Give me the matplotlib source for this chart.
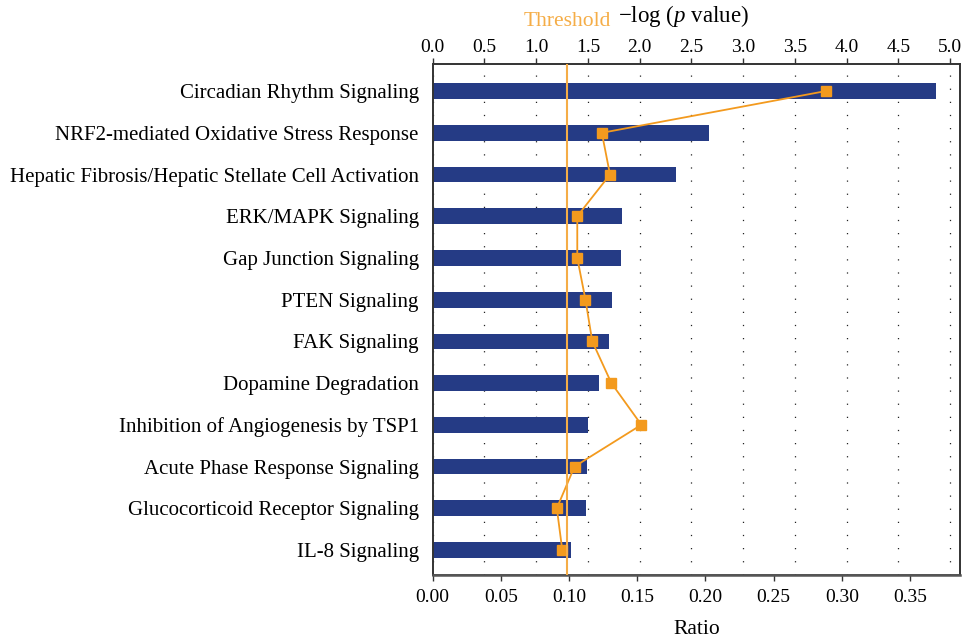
import numpy as np
import matplotlib
matplotlib.use('Agg')
import matplotlib.pyplot as plt
import matplotlib.transforms as mtransforms

plt.rcParams['font.family'] = 'Liberation Serif'
plt.rcParams['mathtext.fontset'] = 'custom'
plt.rcParams['mathtext.rm'] = 'Liberation Serif'
plt.rcParams['mathtext.it'] = 'Liberation Serif:italic'

# canonical pathways, top to bottom
pathways = ['Circadian Rhythm Signaling',
            'NRF2-mediated Oxidative Stress Response',
            'Hepatic Fibrosis/Hepatic Stellate Cell Activation',
            'ERK/MAPK Signaling',
            'Gap Junction Signaling',
            'PTEN Signaling',
            'FAK Signaling',
            'Dopamine Degradation',
            'Inhibition of Angiogenesis by TSP1',
            'Acute Phase Response Signaling',
            'Glucocorticoid Receptor Signaling',
            'IL-8 Signaling']
neglogp = [4.86, 2.67, 2.35, 1.83, 1.82, 1.73, 1.70, 1.61, 1.50, 1.49, 1.48, 1.34]
ratio = [0.288, 0.124, 0.130, 0.106, 0.106, 0.112, 0.117, 0.131, 0.153, 0.104, 0.091, 0.095]
threshold = 1.3
logp_ticks = np.arange(0, 5.01, 0.5)
ratio_ticks = np.arange(0, 0.351, 0.05)

bar_col = '#253B85'
line_col = '#F39A1E'
thr_col = '#F5AD47'
fs_cat = 15
fs_tick = 14
fs_lab = 15.5

fig = plt.figure(figsize=(9.65, 6.42), dpi=100)
ax = fig.add_axes([0.4484, 0.1044, 0.5464, 0.7959])
ax2 = ax.twiny()
y = np.arange(len(pathways))
ylims = (len(pathways) - 0.4, -0.65)

# -log(p) bars, read on the top axis
ax.barh(y, neglogp, height=0.376, color=bar_col, zorder=2)
ax.set_xlim(0, 5.095)
ax.set_ylim(*ylims)
ax.set_yticks(y)
ax.set_yticklabels(pathways, fontsize=fs_cat)
ax.tick_params(axis='y', length=0, pad=10)
ax.xaxis.tick_top()
ax.xaxis.set_label_position('top')
ax.set_xticks(logp_ticks)
ax.set_xticklabels(['%.1f' % t for t in logp_ticks], fontsize=fs_tick)
ax.tick_params(axis='x', direction='out', length=4, width=1, color='#333333', pad=1.5)
ax.set_xlabel(r'$-$log ($p$ value)', fontsize=16.5)
ax.xaxis.set_label_coords(0.475, 1.082)
ax.set_axisbelow(True)
ax.grid(axis='x', color='#222222', linewidth=0.9, linestyle=(0, (1, 9.5)))

# ratio line, read on the bottom axis
ax2.xaxis.tick_bottom()
ax2.xaxis.set_label_position('bottom')
ax2.plot(ratio, y, color=line_col, lw=1.3, marker='s', markersize=6.5,
         markerfacecolor=line_col, markeredgecolor=line_col, zorder=3)
ax2.set_xlim(0, 0.3866)
ax2.set_ylim(*ylims)
ax2.set_xticks(ratio_ticks)
ax2.set_xticklabels(['%.2f' % t for t in ratio_ticks], fontsize=fs_tick)
ax2.tick_params(axis='x', direction='out', length=4, width=1, color='#333333', pad=6)
ax2.set_xlabel('Ratio', fontsize=fs_lab, labelpad=10)

# threshold line in -log(p) units, drawn over the markers
trans = mtransforms.blended_transform_factory(ax.transData, ax.transAxes)
ax2.plot([threshold, threshold], [0, 1], color=thr_col, lw=1.5, transform=trans, zorder=4)
ttrans = mtransforms.blended_transform_factory(ax.transData, fig.transFigure)
ax2.text(threshold, 0.967, 'Threshold', transform=ttrans, color=thr_col,
         fontsize=fs_lab, ha='center', va='center')

for a in (ax, ax2):
    for s in a.spines.values():
        s.set_color('#333333')
        s.set_linewidth(1.2)
ax2.spines['bottom'].set_color('#555555')
ax2.spines['bottom'].set_linewidth(1.8)

plt.savefig('out.png', dpi=100)
